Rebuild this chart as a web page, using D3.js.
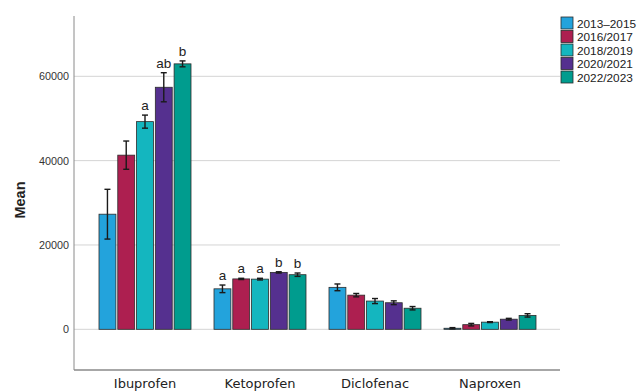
<!DOCTYPE html>
<html>
<head>
<meta charset="utf-8">
<script src="https://cdn.jsdelivr.net/npm/d3@7"></script>
<style>
  html, body { margin: 0; padding: 0; background: #fff; }
  svg { display: block; font-family: "Liberation Sans", "DejaVu Sans", sans-serif; }
</style>
</head>
<body>
<svg id="chart" width="640" height="392"></svg>
<script>
// Drug categories and survey periods
const drugs = ["Ibuprofen", "Ketoprofen", "Diclofenac", "Naproxen"];
const periods = ["2013–2015", "2016/2017", "2018/2019", "2020/2021", "2022/2023"];
const periodColors = ["#23a3dc", "#ad1f50", "#14b6bf", "#55308f", "#009c8e"];

// Mean values per drug, one array per period (in drug order)
const mean2013 = [27300, 9600, 9950, 250];
const mean2016 = [41300, 11950, 8100, 1100];
const mean2018 = [49250, 11900, 6700, 1700];
const mean2020 = [57400, 13500, 6300, 2400];
const mean2022 = [62950, 12950, 5000, 3300];

// Error bar half-widths
const err2013 = [5900, 900, 800, 150];
const err2016 = [3350, 150, 400, 300];
const err2018 = [1550, 200, 600, 100];
const err2020 = [3450, 150, 450, 200];
const err2022 = [700, 400, 400, 400];

// Significance letters above bars ("" = none)
const sig2013 = ["", "a", "", ""];
const sig2016 = ["", "a", "", ""];
const sig2018 = ["a", "a", "", ""];
const sig2020 = ["ab", "b", "", ""];
const sig2022 = ["b", "b", "", ""];

const yTicks = [0, 20000, 40000, 60000];

const meansByPeriod = [mean2013, mean2016, mean2018, mean2020, mean2022];
const errsByPeriod = [err2013, err2016, err2018, err2020, err2022];
const sigsByPeriod = [sig2013, sig2016, sig2018, sig2020, sig2022];

const rows = [];
drugs.forEach((d, i) => {
  periods.forEach((p, j) => {
    rows.push({ drug: d, period: p, value: meansByPeriod[j][i], err: errsByPeriod[j][i], sig: sigsByPeriod[j][i], color: periodColors[j] });
  });
});

const svg = d3.select("#chart");
const plotLeft = 74, plotRight = 560, plotTop = 16, plotBottom = 370;

const y = d3.scaleLinear().domain([-9650, 74300]).range([plotBottom, plotTop]);
const x0 = d3.scaleBand().domain(drugs).range([87.5, 547.5]).paddingInner(0.2).paddingOuter(0.1);
const x1 = d3.scaleBand().domain(periods).range([0, x0.bandwidth()]).paddingInner(0.1).paddingOuter(0);

// Gridlines
svg.append("g")
  .selectAll("line").data(yTicks).join("line")
  .attr("x1", plotLeft).attr("x2", plotRight)
  .attr("y1", d => y(d)).attr("y2", d => y(d))
  .attr("stroke", "#d4d4d4").attr("stroke-width", 1);

// Y axis
const yAxis = svg.append("g")
  .attr("transform", `translate(${plotLeft},0)`)
  .call(d3.axisLeft(y).tickValues(yTicks).tickFormat(d3.format("d")).tickSize(0).tickPadding(5));
yAxis.select(".domain").remove();
yAxis.selectAll("text").attr("font-size", 10.8).attr("fill", "#333")
  .attr("font-family", "'Liberation Sans', sans-serif");
svg.append("line")
  .attr("x1", plotLeft).attr("x2", plotLeft)
  .attr("y1", plotTop).attr("y2", plotBottom)
  .attr("stroke", "#8a8a8a").attr("stroke-width", 1);

// X axis
const xAxis = svg.append("g")
  .attr("transform", `translate(0,${plotBottom})`)
  .call(d3.axisBottom(x0).tickSize(0).tickPadding(9));
xAxis.select(".domain").remove();
xAxis.selectAll("text").attr("font-size", 13).attr("fill", "#222")
  .attr("font-family", "'DejaVu Sans', sans-serif");
svg.append("line")
  .attr("x1", plotLeft).attr("x2", plotRight)
  .attr("y1", plotBottom).attr("y2", plotBottom)
  .attr("stroke", "#8a8a8a").attr("stroke-width", 1.5);

// Y axis title
svg.append("text")
  .attr("transform", `translate(25,200) rotate(-90)`)
  .attr("text-anchor", "middle")
  .attr("font-size", 14.5).attr("font-weight", "bold").attr("fill", "#222")
  .text("Mean");

// Bars
const barX = d => x0(d.drug) + x1(d.period);
svg.append("g").selectAll("rect").data(rows).join("rect")
  .attr("x", barX)
  .attr("y", d => y(d.value))
  .attr("width", x1.bandwidth())
  .attr("height", d => y(0) - y(d.value))
  .attr("fill", d => d.color)
  .attr("stroke", "#2b2b2b").attr("stroke-width", 0.8);

// Error bars
const eb = svg.append("g").attr("stroke", "#1a1a1a").attr("stroke-width", 1.4);
rows.forEach(d => {
  const cx = barX(d) + x1.bandwidth() / 2;
  const top = y(d.value + d.err), bot = y(d.value - d.err);
  eb.append("line").attr("x1", cx).attr("x2", cx).attr("y1", top).attr("y2", bot);
  eb.append("line").attr("x1", cx - 3).attr("x2", cx + 3).attr("y1", top).attr("y2", top);
  eb.append("line").attr("x1", cx - 3).attr("x2", cx + 3).attr("y1", bot).attr("y2", bot);
});

// Significance letters
svg.append("g").selectAll("text").data(rows.filter(d => d.sig)).join("text")
  .attr("x", d => barX(d) + x1.bandwidth() / 2)
  .attr("y", d => y(d.value + d.err) - 5)
  .attr("text-anchor", "middle")
  .attr("font-size", 13.5).attr("fill", "#222")
  .text(d => d.sig);

// Legend
const legend = svg.append("g").attr("transform", "translate(561,17)");
periods.forEach((p, i) => {
  const g = legend.append("g").attr("transform", `translate(0,${i * 13.5})`);
  g.append("rect").attr("width", 12).attr("height", 12)
    .attr("fill", periodColors[i]).attr("stroke", "#2b2b2b").attr("stroke-width", 0.8);
  g.append("text").attr("x", 16).attr("y", 10.5)
    .attr("font-size", 11.8).attr("fill", "#222").text(p);
});
</script>
</body>
</html>
